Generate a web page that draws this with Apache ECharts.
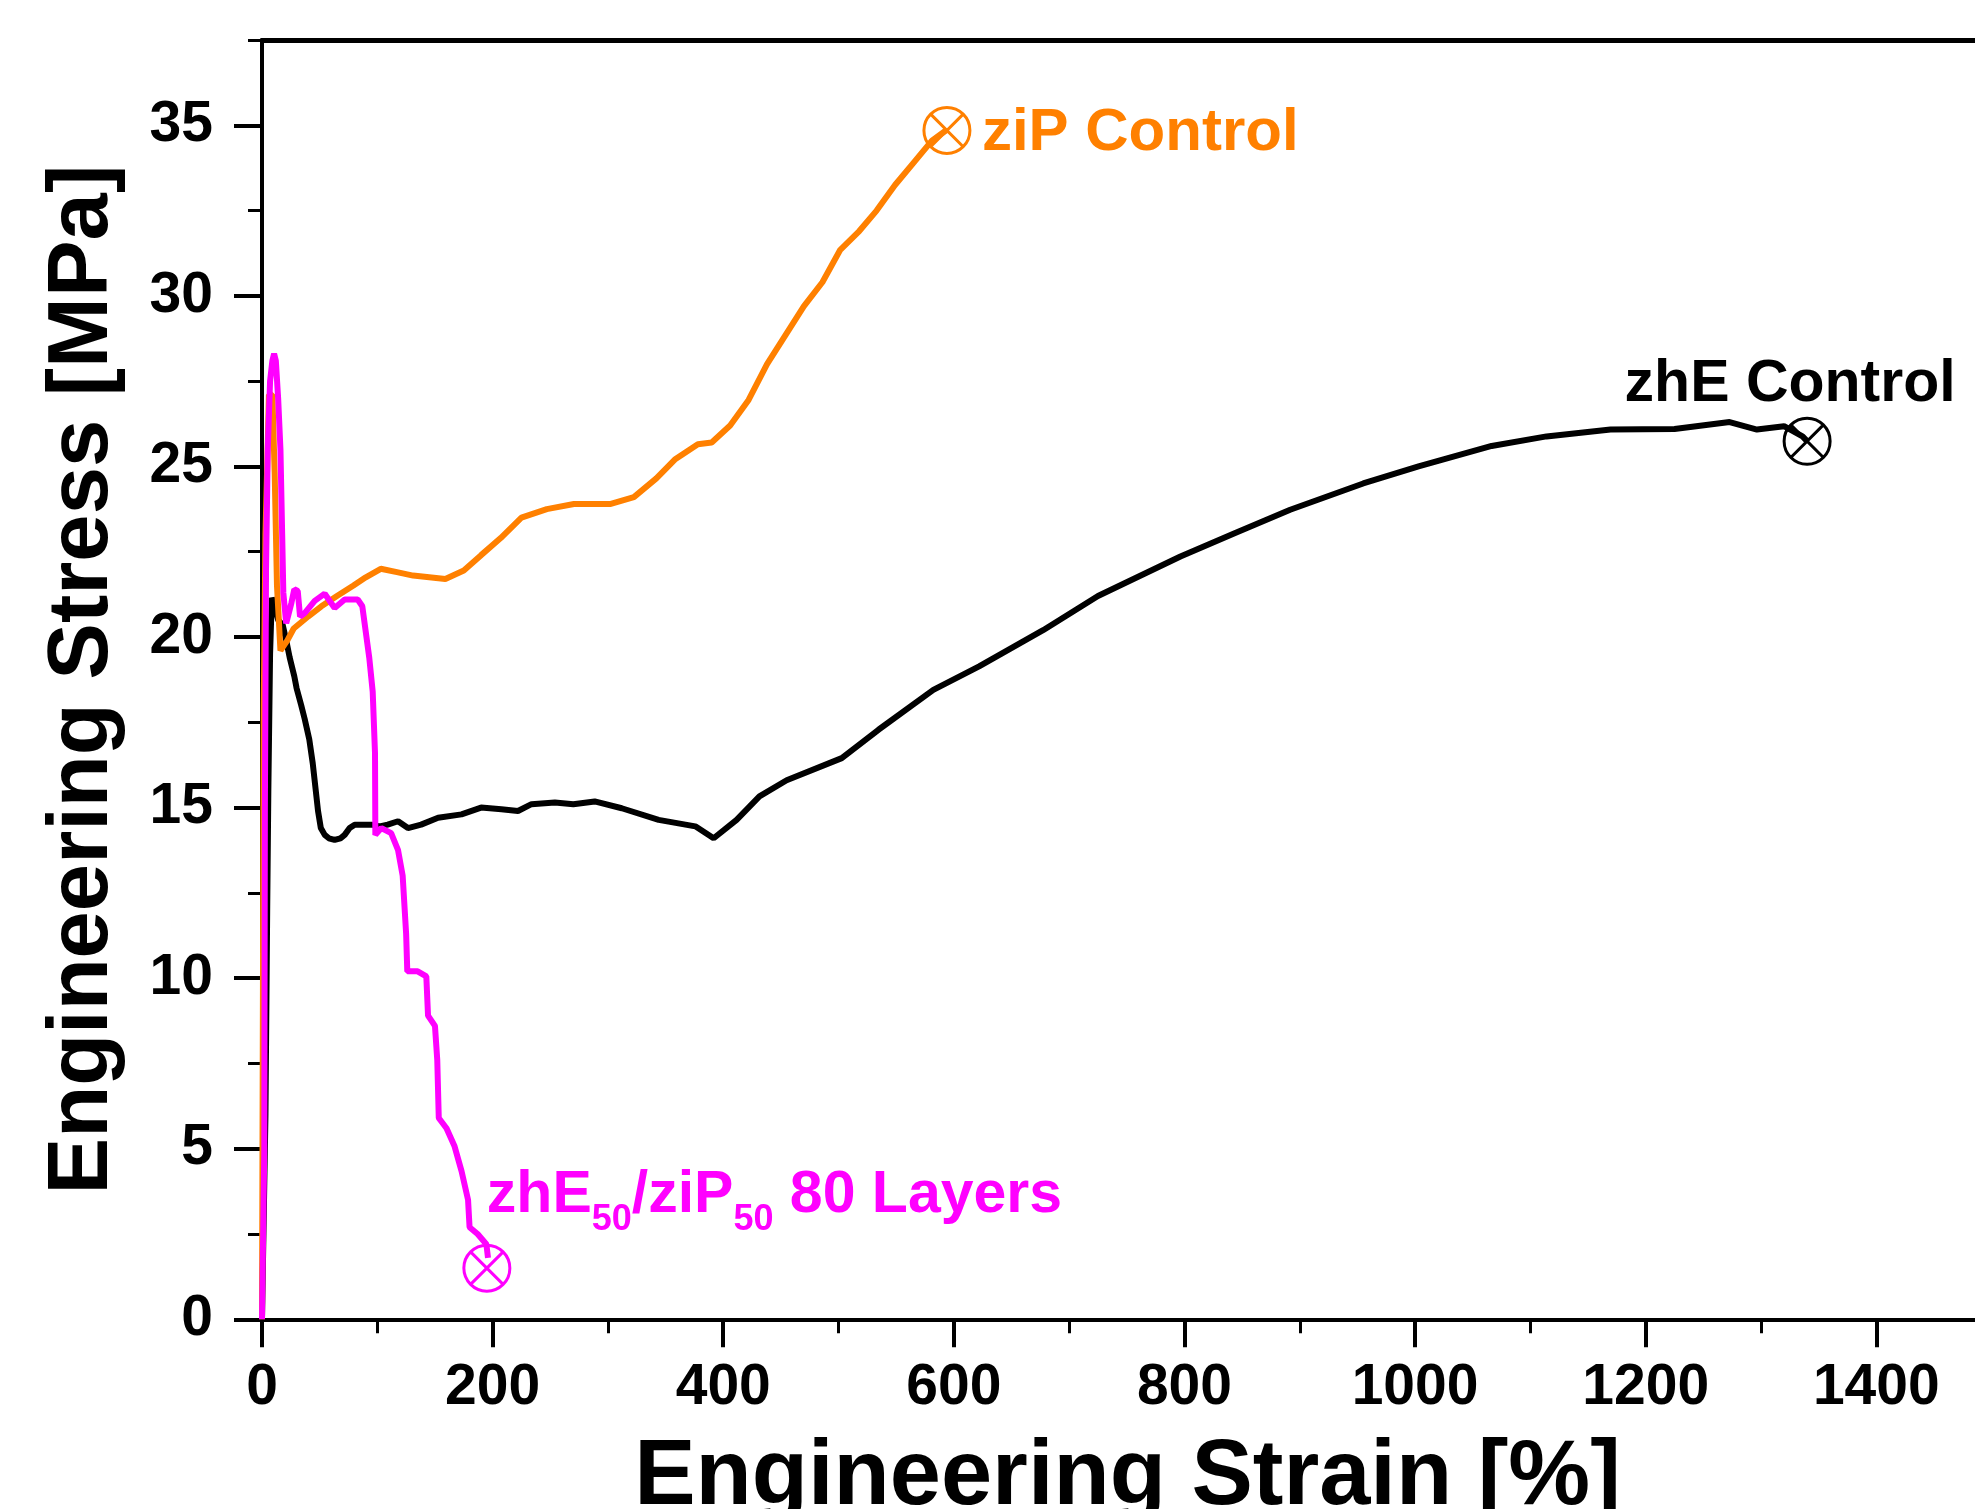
<!DOCTYPE html>
<html>
<head>
<meta charset="utf-8">
<script src="https://cdn.jsdelivr.net/npm/echarts@6/dist/echarts.min.js"></script>
<style>
  body { margin: 0; background: #fff; }
  #chart { width: 1975px; height: 1509px; }
</style>
</head>
<body>
<div id="chart"></div>
<script>
  // zhE Control
  var zheStrain = [0, 3, 4.5, 5.5, 7, 8.5, 11, 14, 18, 21, 24, 28, 30, 34, 37, 41, 44, 48.6, 51, 54.4, 58,
    63, 68, 71.7, 76, 80.4, 88, 95, 102, 109, 118, 126.6, 138, 152.7, 173, 190, 207.6, 222, 233.7, 254,
    270, 288.5, 312, 344, 375.8, 391.7, 411.6, 431.4, 455, 502.8, 534.6, 582.2, 621.9, 677.4, 725, 796.5,
    844, 891.7, 955, 1003, 1066.4, 1114, 1169.5, 1225, 1272.8, 1296.5, 1320, 1336, 1340]
  var zheStress = [0, 6, 12, 15.5, 19.5, 21.15, 20.9, 20.5, 20.35, 19.9, 19.4, 18.85, 18.5, 18.0, 17.6, 17.0,
    16.3, 14.9, 14.4, 14.2, 14.1, 14.05, 14.1, 14.2, 14.4, 14.5, 14.5, 14.5, 14.45, 14.5, 14.6, 14.4, 14.5,
    14.7, 14.8, 15.0, 14.95, 14.9, 15.1, 15.15, 15.1, 15.18, 14.98, 14.64, 14.45, 14.1, 14.64, 15.33, 15.8,
    16.45, 17.28, 18.45, 19.14, 20.2, 21.2, 22.36, 23.05, 23.73, 24.5, 25.0, 25.6, 25.88, 26.08, 26.1, 26.3,
    26.08, 26.18, 25.88, 25.74]

  // ziP Control
  var zipStrain = [0, 1.5, 3, 4.5, 6, 9, 11, 13, 16, 22, 27.5, 40, 51.5, 65, 79, 90, 103, 117, 131, 145,
    159, 175, 190, 207, 225, 247, 270.5, 302.5, 322.5, 342, 358, 378, 390, 406, 422, 438, 454, 470, 486,
    501.5, 518, 533, 549, 565, 581, 594]
  var zipStress = [0, 18, 23, 25, 27.1, 27.1, 24.8, 21.5, 19.6, 19.9, 20.25, 20.6, 20.9, 21.2, 21.5, 21.75,
    22.0, 21.9, 21.8, 21.75, 21.7, 21.95, 22.4, 22.9, 23.5, 23.75, 23.9, 23.9, 24.1, 24.65, 25.2, 25.65,
    25.7, 26.2, 26.95, 28.0, 28.85, 29.7, 30.4, 31.35, 31.9, 32.5, 33.25, 33.9, 34.55, 34.87]

  // zhE50/ziP50 80 Layers
  var layerStrain = [0, 2, 2.5, 3.5, 5, 7, 9, 10.5, 12, 14, 16, 17.5, 18.5, 21, 25.5, 28, 31, 33, 37, 45.7,
    54.4, 63, 71.7, 83, 87, 93, 96, 98, 98.3, 103.5, 112, 118, 122, 125, 126, 135, 142.5, 144, 150, 152,
    153.3, 160, 167, 173, 178.7, 180, 187, 194.6, 196]
  var layerStress = [0, 5, 15, 22, 25.5, 27.5, 28.1, 28.3, 28.1, 27, 25.5, 23, 21.3, 20.4, 21.0, 21.4, 21.35,
    20.6, 20.7, 21.06, 21.27, 20.85, 21.1, 21.1, 20.9, 19.4, 18.4, 16.6, 14.2, 14.4, 14.25, 13.75, 13.0, 11.3,
    10.2, 10.2, 10.05, 8.9, 8.6, 7.6, 5.9, 5.6, 5.07, 4.35, 3.5, 2.7, 2.5, 2.2, 1.8]

  // break points (strain, stress)
  var zheBreak = [1340, 25.74]
  var zipBreak = [594, 34.85]
  var layerBreak = [195, 1.5]

  var xMajor = [0, 200, 400, 600, 800, 1000, 1200, 1400]
  var xMinor = [100, 300, 500, 700, 900, 1100, 1300]
  var yMajor = [0, 5, 10, 15, 20, 25, 30, 35]
  var yMinor = [2.5, 7.5, 12.5, 17.5, 22.5, 27.5, 32.5, 37.5]

  var FONT = 'Liberation Sans'
  var ORANGE = '#FF8000'
  var MAGENTA = '#FF00FF'
  var BREAK_SYMBOL = 'path://M25,1A24,24,0,1,1,24.99,1ZM8,8L42,42M42,8L8,42'

  function pairs(xs, ys) {
    var out = []
    for (var i = 0; i < xs.length; i++) {
      out.push([xs[i], ys[i]])
    }
    return out
  }

  function curve(data, color) {
    return {
      type: 'line',
      data: data,
      showSymbol: false,
      silent: true,
      lineStyle: { color: color, width: 6 },
      z: 3
    }
  }

  function breakMark(point, color, label) {
    return {
      type: 'scatter',
      data: [point],
      symbol: BREAK_SYMBOL,
      symbolSize: 46,
      silent: true,
      itemStyle: { color: 'rgba(0,0,0,0)', borderColor: color, borderWidth: 3, opacity: 1 },
      label: label,
      z: 5
    }
  }

  // the plot runs past the right edge of the picture
  var xRight = 1485.6

  var chart = echarts.init(document.getElementById('chart'))
  chart.setOption({
    animation: false,
    backgroundColor: '#fff',
    grid: {
      left: 262,
      top: 40,
      right: 0,
      height: 1279.3,
      outerBoundsMode: 'none'
    },
    xAxis: [{
        type: 'value',
        min: 0,
        max: xRight,
        name: 'Engineering Strain [%]',
        nameLocation: 'middle',
        nameGap: 113,
        nameTextStyle: { fontFamily: FONT, fontWeight: 'bold', fontSize: 92, color: '#000', padding: [0, 0, 0, 18] },
        axisLine: { show: true, onZero: false, lineStyle: { color: '#000', width: 4 } },
        axisTick: { show: true, customValues: xMajor, length: 28, lineStyle: { color: '#000', width: 4 } },
        axisLabel: {
          customValues: xMajor,
          margin: 40,
          fontFamily: FONT,
          fontWeight: 'bold',
          fontSize: 57,
          color: '#000',
          formatter: function (v) { return String(v) }
        },
        splitLine: { show: false }
      },
      {
        // minor ticks
        type: 'value',
        min: 0,
        max: xRight,
        position: 'bottom',
        axisLine: { show: false },
        axisTick: { show: true, customValues: xMinor, length: 14, lineStyle: { color: '#000', width: 3 } },
        axisLabel: { show: false },
        splitLine: { show: false }
      },
      {
        // top frame line
        type: 'value',
        min: 0,
        max: xRight,
        position: 'top',
        axisLine: { show: true, onZero: false, lineStyle: { color: '#000', width: 5 } },
        axisTick: { show: false },
        axisLabel: { show: false },
        splitLine: { show: false }
      }
    ],
    yAxis: [{
        type: 'value',
        min: 0,
        max: 37.5,
        interval: 5,
        name: 'Engineering Stress [MPa]',
        nameLocation: 'middle',
        nameGap: 136,
        nameTextStyle: { fontFamily: FONT, fontWeight: 'bold', fontSize: 85, color: '#000' },
        axisLine: { show: true, onZero: false, lineStyle: { color: '#000', width: 4 } },
        axisTick: { show: true, customValues: yMajor, length: 28, lineStyle: { color: '#000', width: 4 } },
        axisLabel: { customValues: yMajor, margin: 49, fontFamily: FONT, fontWeight: 'bold', fontSize: 57, color: '#000' },
        splitLine: { show: false }
      },
      {
        // minor ticks
        type: 'value',
        min: 0,
        max: 37.5,
        position: 'left',
        axisLine: { show: false },
        axisTick: { show: true, customValues: yMinor, length: 14, lineStyle: { color: '#000', width: 3 } },
        axisLabel: { show: false },
        splitLine: { show: false }
      }
    ],
    series: [
      curve(pairs(zheStrain, zheStress), '#000'),
      curve(pairs(zipStrain, zipStress), ORANGE),
      curve(pairs(layerStrain, layerStress), MAGENTA),
      breakMark(zipBreak, ORANGE, {
        show: true,
        position: 'inside',
        align: 'left',
        offset: [35, 3],
        formatter: 'ziP Control',
        fontFamily: FONT,
        fontWeight: 'bold',
        fontSize: 60,
        color: ORANGE,
        opacity: 1
      }),
      breakMark(zheBreak, '#000', {
        show: true,
        position: 'inside',
        align: 'center',
        offset: [-17, -56],
        formatter: 'zhE Control',
        fontFamily: FONT,
        fontWeight: 'bold',
        fontSize: 59,
        color: '#000',
        opacity: 1
      }),
      breakMark(layerBreak, MAGENTA, {
        show: true,
        position: 'inside',
        align: 'left',
        offset: [0, -72],
        formatter: '{a|zhE}{s|50}{a|/ziP}{s|50}{a| 80 Layers}',
        color: MAGENTA,
        opacity: 1,
        rich: {
          a: { fontFamily: FONT, fontWeight: 'bold', fontSize: 59, lineHeight: 64, color: MAGENTA },
          s: { fontFamily: FONT, fontWeight: 'bold', fontSize: 36, lineHeight: 36, color: MAGENTA, padding: [48, 0, 0, 0] }
        }
      })
    ]
  })
</script>
</body>
</html>
